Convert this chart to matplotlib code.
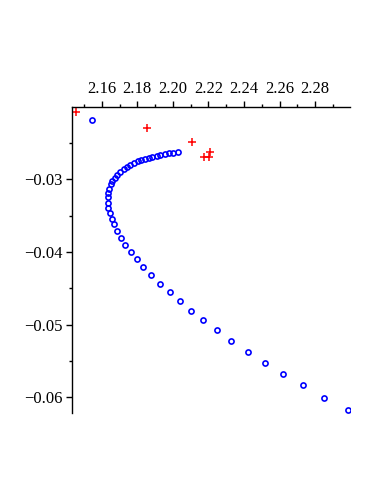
import matplotlib
matplotlib.use('Agg')
import matplotlib.pyplot as plt

# blue open circles
blue_x = [2.1544, 2.2026, 2.2002, 2.1979, 2.1955, 2.1930, 2.1908, 2.1885, 2.1863,
          2.1842, 2.1821, 2.1803, 2.1782, 2.1761, 2.1741, 2.1722, 2.1703, 2.1688,
          2.1673, 2.1660, 2.1651, 2.1642, 2.1637, 2.1637, 2.1637, 2.1637, 2.1648,
          2.1658, 2.1669, 2.1688, 2.1707, 2.1731, 2.1763, 2.1797, 2.1834, 2.1878,
          2.1928, 2.1981, 2.2037, 2.2099, 2.2171, 2.2246, 2.2328, 2.2423, 2.2518,
          2.2620, 2.2734, 2.2852, 2.2986]
blue_y = [-0.02184, -0.02620, -0.02634, -0.02642, -0.02652, -0.02662, -0.02675,
          -0.02689, -0.02703, -0.02717, -0.02730, -0.02748, -0.02772, -0.02799,
          -0.02827, -0.02858, -0.02895, -0.02937, -0.02978, -0.03023, -0.03069,
          -0.03127, -0.03193, -0.03248, -0.03330, -0.03391, -0.03468, -0.03542,
          -0.03619, -0.03711, -0.03807, -0.03900, -0.03996, -0.04100, -0.04210,
          -0.04316, -0.04440, -0.04554, -0.04678, -0.04812, -0.04940, -0.05073,
          -0.05228, -0.05371, -0.05527, -0.05682, -0.05834, -0.06004, -0.06173]

# red crosses
red_x = [2.1454, 2.1854, 2.2107, 2.2210, 2.2176, 2.2205]
red_y = [-0.0207, -0.0229, -0.0249, -0.02625, -0.0269, -0.0269]

x_ticks = [2.16, 2.18, 2.20, 2.22, 2.24, 2.26, 2.28]
x_minor = [2.15, 2.17, 2.19, 2.21, 2.23, 2.25, 2.27, 2.29]
y_ticks = [-0.03, -0.04, -0.05, -0.06]
y_minor = [-0.025, -0.035, -0.045, -0.055]

plt.rcParams['font.family'] = ['Liberation Serif', 'DejaVu Serif']
plt.rcParams['axes.unicode_minus'] = True

fig = plt.figure(figsize=(3.83, 4.96), dpi=100)
ax = fig.add_axes([0.1888, 0.1667, 0.7250, 0.6182])

ax.plot(blue_x, blue_y, 'o', ms=3.7, mfc='none', mec='#0000ff', mew=1.2, ls='none')
ax.plot(red_x, red_y, '+', ms=5.5, mec='#ff0000', mew=1.1, ls='none')

ax.set_xlim(2.1434, 2.2996)
ax.set_ylim(-0.0622, -0.0200)

ax.xaxis.tick_top()
ax.set_xticks(x_ticks)
ax.set_xticklabels(['%.2f' % v for v in x_ticks])
ax.set_xticks(x_minor, minor=True)
ax.set_yticks(y_ticks)
ax.set_yticklabels(['\u2212%.2f' % abs(v) for v in y_ticks])
ax.set_yticks(y_minor, minor=True)

for s in ['right', 'bottom']:
    ax.spines[s].set_visible(False)
for s in ['left', 'top']:
    ax.spines[s].set_linewidth(1.0)

ax.tick_params(which='major', direction='out', length=4, width=1.0, labelsize=12, pad=3)
ax.tick_params(which='minor', direction='out', length=2.5, width=1.0)

fig.savefig('out.png', dpi=100)
